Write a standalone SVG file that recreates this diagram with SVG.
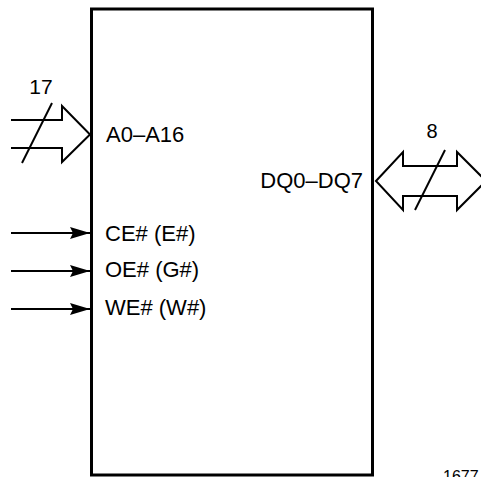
<svg xmlns="http://www.w3.org/2000/svg" width="481" height="477" viewBox="0 0 481 477">
<defs>
<style>
.t{font-family:"Liberation Sans",Arial,Helvetica,sans-serif;font-size:22px;fill:#000}
.ln{stroke:#000;stroke-width:2;fill:none}
.bus{stroke:#000;stroke-width:2;fill:#fff;stroke-linejoin:miter}
</style>
<marker id="ah" markerWidth="20" markerHeight="12" refX="20" refY="6" orient="auto" markerUnits="userSpaceOnUse">
<polygon points="0,0 20,6 0,12 3,6" fill="#000"/>
</marker>
</defs>
<rect width="481" height="477" fill="#fff"/>
<g id="chip">
<rect x="91.5" y="9" width="281" height="466" fill="none" stroke="#000" stroke-width="3"/>
<text class="t" x="106" y="142">A0–A16</text>
<text class="t" x="363" y="188" text-anchor="end">DQ0–DQ7</text>
<text class="t" x="105" y="241">CE# (E#)</text>
<text class="t" x="105" y="277">OE# (G#)</text>
<text class="t" x="105" y="315">WE# (W#)</text>
</g>
<g id="connectors">
<g id="addr-bus">
<polyline class="bus" points="11,120 62,120 62,106 90,134.5 62,162 62,148 11,148"/>
<line class="ln" x1="22" y1="163" x2="52" y2="103"/>
<text class="t" x="41" y="94" text-anchor="middle" style="font-size:21px">17</text>
</g>
<g id="data-bus">
<polygon class="bus" points="376,181 403,152 403,166 457,166 457,152 486,181 457,210 457,196 403,196 403,210"/>
<line class="ln" x1="415" y1="210" x2="445" y2="150"/>
<text class="t" x="432" y="138" text-anchor="middle" style="font-size:20px">8</text>
</g>
<line class="ln" x1="11" y1="233" x2="90" y2="233" marker-end="url(#ah)"/>
<line class="ln" x1="11" y1="271" x2="90" y2="271" marker-end="url(#ah)"/>
<line class="ln" x1="11" y1="309" x2="90" y2="309" marker-end="url(#ah)"/>
</g>
<text class="t" x="443" y="482" style="font-size:16px">1677</text>
</svg>
